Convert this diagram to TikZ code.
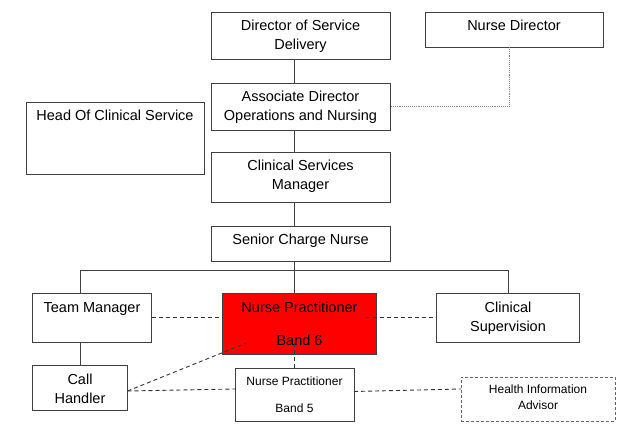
\documentclass[tikz,border=0pt]{standalone}
\usepackage{fontspec}
\setmainfont{Liberation Sans}
\usetikzlibrary{positioning}

\newcommand{\cell}[4][19pt]{\parbox[c][#3][t]{#2}{\centering\rule{0pt}{#1}#4}}

\begin{document}
\begin{tikzpicture}[x=1pt, y=1pt,
    post/.style={draw=black!75, line width=0.9pt, inner sep=0pt, outer sep=0pt, font=\fontsize{14.5}{19}\selectfont},
    small/.style={font=\fontsize{12}{16}\selectfont},
    link/.style={draw=black!75, line width=0.9pt},
    side/.style={draw=black!80, line width=0.9pt, dash pattern=on 4pt off 3pt}]
  \useasboundingbox (0,0) rectangle (618,-430);

  %% directors
  \node[post] (dsd) at (300.5,-35.5) {\cell{179pt}{47pt}{Director of Service\\Delivery}};
  \node[post, right=35pt of dsd.north east, anchor=north west] (nd) {\cell{178pt}{35pt}{Nurse Director}};
  \node[post, below=24pt of dsd] (assoc) {\cell{179pt}{47pt}{Associate Director\\Operations and Nursing}};
  \node[post, below left=19pt and 7pt of assoc.north west] (head) {\cell{178pt}{72pt}{Head Of Clinical Service}};
  \node[post, below=22pt of assoc] (csm) {\cell{179pt}{50pt}{Clinical Services\\Manager}};
  \node[post, below=24pt of csm] (scn) {\cell[18pt]{179pt}{35pt}{Senior Charge Nurse}};

  %% team
  \node[post, fill=red, below=32pt of scn, xshift=-1pt] (np6) {\cell{154pt}{61pt}{Nurse Practitioner\\[14pt]Band 6}};
  \node[post, left=71pt of np6.north west, anchor=north east] (team) {\cell{119pt}{49pt}{Team Manager}};
  \node[post, right=60pt of np6.north east, anchor=north west] (super) {\cell{143pt}{49pt}{Clinical\\Supervision}};
  \node[post, below=23pt of team.south west, anchor=north west] (call) {\cell{95pt}{45pt}{Call\\Handler}};
  \node[post, small, below=14pt of np6, xshift=-5pt] (np5) {\cell[17.3pt]{119pt}{53pt}{Nurse Practitioner\\[11pt]Band 5}};
  \node[post, small, draw=black!60, dash pattern=on 3pt off 2pt, below right=9pt and 107pt of np5.north east] (hia) {\cell[16.3pt]{154pt}{44pt}{Health Information\\Advisor}};

  %% line management
  \coordinate (spine) at ([xshift=-6pt]dsd.south);
  \coordinate[below=9pt of scn.south] (bus);
  \draw[link] (dsd.south -| spine) -- (assoc.north -| spine);
  \draw[link] (assoc.south -| spine) -- (csm.north -| spine);
  \draw[link] (csm.south -| spine) -- (scn.north -| spine);
  \draw[link] (scn.south -| spine) -- (np6.north -| spine);
  \draw[link] (team.north -| call) -- (call |- bus) -- (super |- bus) -- (super.north);
  \draw[link] (team.south -| call) -- (call.north);

  %% professional links
  \draw[draw=black!45, line width=0.9pt, densely dotted] ([xshift=-5pt]nd.south) |- (assoc.east);
  \draw[side] (team.east) -- (team.east -| np6.west);
  \draw[side] ([xshift=-11pt]np6.east |- super.west) -- (super.west);
  \draw[side] ([yshift=-3.5pt]call.east) -- ([shift={(24pt,11pt)}]np6.south west);
  \draw[side] ([yshift=-3.5pt]call.east) -- ([yshift=5.5pt]np5.west);
  \draw[side] ([yshift=3pt]np5.east) -- ([yshift=10pt]hia.west);
  \draw[side] ([yshift=25pt]np5.north) -- (np5.north);
\end{tikzpicture}
\end{document}
